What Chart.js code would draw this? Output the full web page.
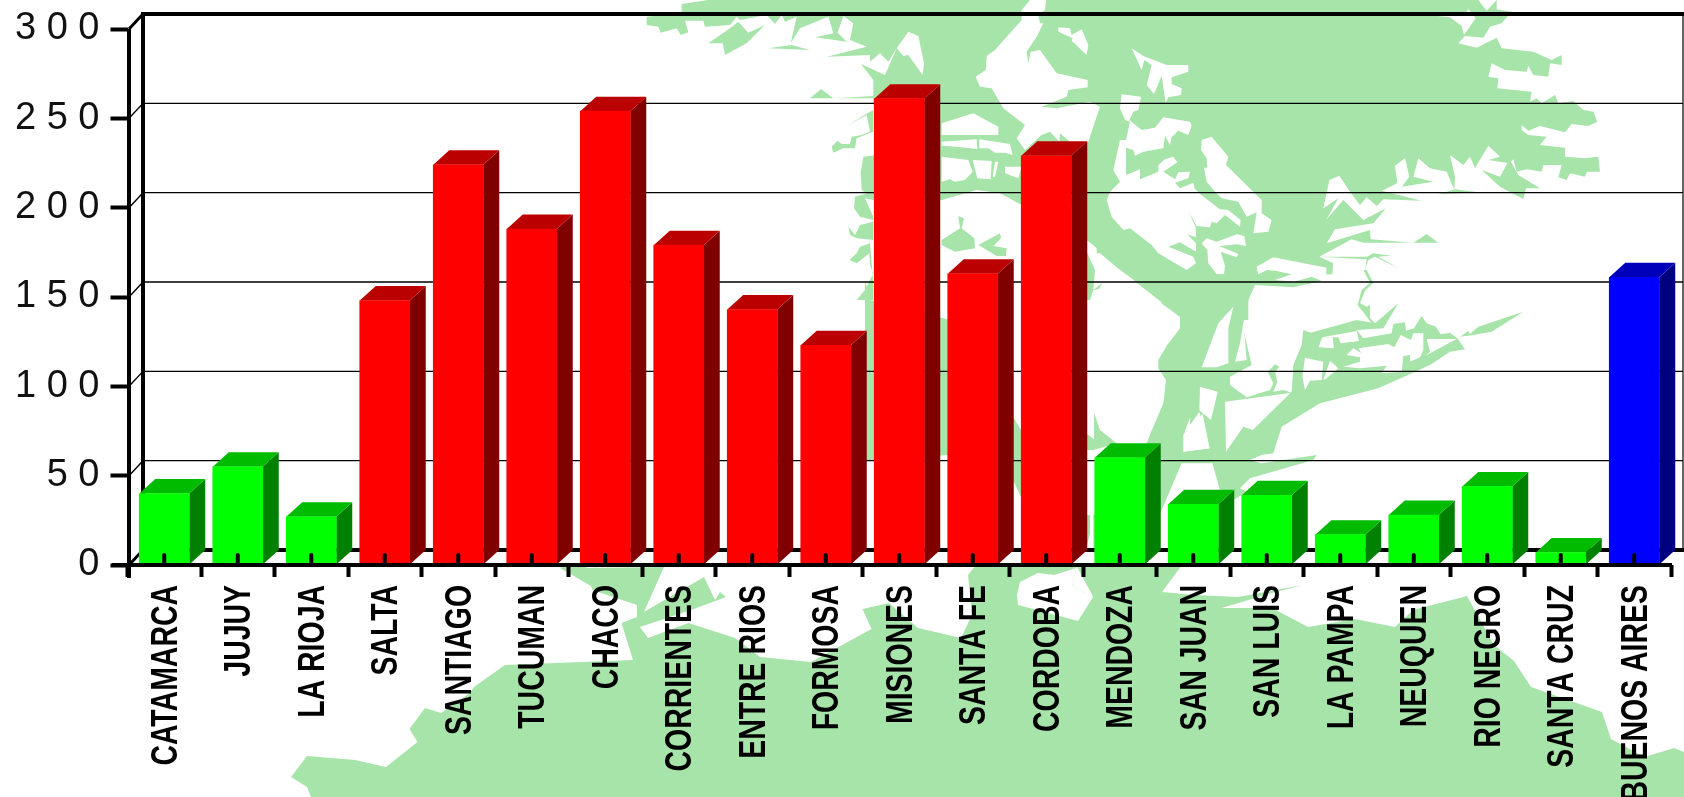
<!DOCTYPE html>
<html><head><meta charset="utf-8">
<style>html,body{margin:0;padding:0;background:#fff;overflow:hidden}canvas{display:block}</style>
<script src="https://cdn.jsdelivr.net/npm/chart.js@4/dist/chart.umd.min.js"></script>
</head><body><canvas id="c" width="1684" height="797"></canvas>
<script>
const provinces=["CATAMARCA","JUJUY","LA RIOJA","SALTA","SANTIAGO","TUCUMAN","CHACO","CORRIENTES","ENTRE RIOS","FORMOSA","MISIONES","SANTA FE","CORDOBA","MENDOZA","SAN JUAN","SAN LUIS","LA PAMPA","NEUQUEN","RIO NEGRO","SANTA CRUZ","BUENOS AIRES"];
const values=[40,55,27,148,224,188,254,179,143,123,261,163,229,60,34,39,17,28,44,7,161];
const regions=["g","g","g","r","r","r","r","r","r","r","r","r","r","g","g","g","g","g","g","g","b"];
const faceColors={r:"#ff0000",g:"#00ff00",b:"#0000ff"};
const topColors={r:"#bb0000",g:"#00bb00",b:"#0000bb"};
const sideColors={r:"#800000",g:"#008000",b:"#000080"};
const yTicks=[0,50,100,150,200,250,300];

// decorative background map: [originX, originY, divisor, fill, points]
const G="#a7e4a9",W="#ffffff";
const mapShapes=[
// main north body, west part
[640,0,3,G,[125,12,205,0,1500,0,1500,850,1340,720,1335,620,1145,615,1080,580,1010,570,905,600,860,600,700,600,665,570,662,520,670,470,710,465,700,300,700,240,663,192,735,225,770,145,745,185,720,160,690,185,690,165,560,170,680,140,630,120,640,70,610,48,593,98,620,125,525,112,580,100,565,50,480,85,452,130,470,50,435,65,425,45,405,72,380,45,300,60,290,50,270,75,195,80,190,62,135,62,145,97,122,105,110,85,62,98,55,80,20,75,20,50,125,40]],
[640,0,3,G,[205,130,270,85,295,65,325,98,375,75,320,130,255,165,248,130]],
[640,0,3,G,[385,145,455,135,510,150]],
[640,0,3,G,[510,295,543,267,580,295]],
[640,0,3,G,[585,295,700,288,700,295]],
[640,0,3,G,[575,440,580,458,610,445,645,445,650,415,700,395,700,330,682,340,620,378,680,345,690,395,665,405,635,410,630,432,605,432,592,422]],
[640,0,3,G,[645,590,700,575,700,600,675,595,700,650,700,660,660,650,642,625]],
[640,0,3,G,[625,680,645,705,660,675,700,665,700,720,650,715,630,705]],
[640,0,3,G,[628,780,650,760,660,740,690,730,700,850,700,900,650,900,675,870,700,820,690,795,688,760,650,790]],
[640,0,3,G,[905,720,960,685,955,648,972,655,965,685,1003,715,1005,745,945,755,905,735]],
[640,0,3,G,[1015,735,1080,700,1083,715,1060,738,1100,745,1098,768,1070,768]],
[640,0,3,G,[1340,755,1365,810,1360,870,1388,848,1375,870,1385,900,1340,900]],
// main north body, east lobe
[1100,0,3,G,[-10,0,1135,0,1160,32,1190,0,1190,28,1235,35,1205,70,1170,80,1150,113,1095,108,1075,130,1130,143,1190,113,1205,145,1300,155,1355,180,1385,165,1385,195,1350,190,1345,230,1300,225,1285,197,1280,215,1215,210,1175,190,1165,230,1195,235,1192,265,1295,275,1290,305,1310,295,1325,310,1365,285,1375,310,1420,303,1450,330,1480,335,1492,365,1465,378,1415,372,1395,397,1320,378,1285,392,1265,375,1265,390,1285,405,1340,410,1320,435,1395,443,1395,470,1455,475,1495,470,1500,515,1460,515,1455,530,1410,520,1400,540,1375,532,1385,495,1330,495,1325,515,1280,508,1250,515,1240,478,1228,490,1165,480,1200,470,1165,437,1125,505,1110,470,1090,495,1050,465,1065,530,1063,570,1040,515,990,505,955,475,940,530,1000,545,905,560,928,530,915,475,885,497,892,550,845,572,965,602,850,598,830,618,800,592,780,615,750,575,718,527,688,540,670,625,715,595,678,660,730,600,790,660,858,625,820,670,705,688,680,730,810,690,812,718,940,728,980,702,1015,728,790,728,755,718,658,770,700,790,697,823,678,823,680,803,520,772,470,800,475,822,500,810,527,812,575,823,525,840,583,845,635,830,665,843,580,862,465,855,445,900,445,960,185,960,185,900,60,810,0,760,-10,760]],
[1100,0,3,G,[1145,510,1200,530,1222,490,1230,480,1255,525,1320,565,1278,565,1270,597,1200,560]],
[1100,0,3,G,[1015,583,1135,577,1065,568]],
[1100,0,3,G,[658,770,800,770,820,760,873,767,835,770,900,807,825,770,805,780,790,822,795,810,800,778]],
// holes in the north body
[1100,0,3,W,[1005,47,1050,52,1085,78,1092,105,1127,55,1105,27,1098,40]],
[1100,0,3,W,[95,145,130,168,200,195,265,195,265,215,215,232,215,252,245,265,243,285,205,292,197,308,185,228,162,282,140,255,155,195,133,180,125,210]],
[1100,0,3,W,[65,283,123,290,115,330,100,335,88,360,125,390,165,383,190,352,270,365,275,378,265,405,235,392,215,412,210,435,195,407,190,445,130,455,105,467,100,450,78,443,60,420,78,420,90,365,75,360,60,325]],
[1100,0,3,W,[60,545,30,575,20,600,35,650,70,690,90,685,155,735,175,760,260,810,288,790,280,770,205,740,240,727,288,755,288,730,262,703,288,712,287,682,265,632,290,678,330,682,335,665,350,670,375,645,420,680,422,660,385,630,360,628,300,582,283,565,280,548,240,565,225,548,265,535,270,515,235,517,225,538,190,515,232,487,220,470,195,478,175,495,175,515,120,538,120,508,78,525,78,443,60,420,40,510]],
[1100,0,3,W,[320,715,350,725,410,703,433,708,438,738,412,733,358,738,415,762,410,772,362,755,375,797,372,822,350,822,325,790,322,750,305,730]],
[1100,0,3,W,[305,420,335,410,385,470,378,495,485,600,485,640,515,660,505,695,460,700,470,637,440,650,415,605,365,595,345,575,320,545,312,503,322,503,320,475,303,450]],
[1100,0,3,W,[470,800,498,787,500,810,475,822]],
[640,0,3,W,[1145,30,1170,0,1218,0,1215,30,1195,45,1200,70,1210,70,1190,110,1160,155,1165,190,1172,155,1200,150,1250,220,1343,240,1343,262,1285,270,1280,290,1205,320,1250,325,1350,305,1380,320,1345,425,1290,425,1260,400,1258,425,1230,395,1205,405,1155,450,1130,415,1155,375,1090,325,1055,265,1020,260,1007,230,1037,210,1040,168,1065,150,1145,60]],
[640,0,3,W,[1255,82,1290,85,1295,105,1325,88,1345,135,1340,165,1295,122,1298,115,1255,95]],
[640,0,3,W,[770,145,805,95,835,108,852,190,848,225,805,165,790,168]],
[640,0,3,W,[905,370,1000,340,1075,380,1075,405,980,405,905,405]],
[640,0,3,W,[905,425,1010,418,1012,447,950,440,905,437]],
[640,0,3,W,[1018,418,1110,432,1118,465,1095,458,1065,458,1045,445,1018,445]],
[640,0,3,W,[905,470,985,480,998,515,975,540,945,545,930,538,905,545]],
[640,0,3,W,[998,480,1055,483,1052,538,1012,535]],
[640,0,3,W,[1065,485,1075,485,1065,530,1058,530]],
[640,0,3,W,[1095,500,1145,500,1135,535,1095,520]],
// river running south behind the centre bars
[0,0,1,G,[865,280,870,300,950,320,1000,395,1021,430,1021,497,1013,480,960,450,948,455,873,460,865,460]],
// trunk of the south-east river
[800,280,3,W,[880,30,1000,10,1140,110,1140,145,1100,197,1040,175,960,120,950,90,940,120,870,60]],
[800,280,3,G,[1000,0,1175,0,1175,400,1150,465,1150,515,1040,490,1060,440,1090,370,1098,300,1075,265,1075,240,1100,197,1140,145,1140,110]],
[800,280,3,G,[858,460,882,478,882,398,900,450,950,490,880,510,860,510]],
[800,280,3,G,[860,705,870,705,870,760,860,800]],
[1080,430,3,G,[215,0,315,0,310,65,390,55,410,100,305,100,245,240,205,290,40,370,40,255,200,50]],
[1190,270,3,G,[0,40,185,50,165,130,158,170,185,285,120,320,120,345,170,382,240,360,250,340,233,305,255,283,268,290,255,305,262,335,250,365,280,360,305,368,105,395,108,545,130,590,180,570,215,580,380,555,370,570,180,625,150,655,170,665,130,690,90,660,70,590,38,432,0,465]],
[1190,270,3,G,[108,545,160,470,188,480,305,365,310,285,335,225,340,180,362,188,500,150,555,160,625,100,580,175,500,180,520,205,605,190,610,162,645,157,648,182,672,175,695,138,710,160,738,170,752,193,780,188,802,205,825,238,780,245,720,285,565,355,390,400,275,470,250,550,215,555,180,570,130,650]],
[1190,270,3,G,[520,0,530,0,550,38,525,62,510,100,530,110,540,105,540,145,555,160,545,160,503,105,515,60,540,38]],
[1190,270,3,G,[810,200,835,183,840,192,865,170,1000,125,905,185,850,195]],
[1190,270,3,W,[385,232,397,202,428,202,432,235]],
[1190,270,3,W,[397,202,500,183,507,213,452,220,445,202,428,202]],
[1190,270,3,W,[505,235,595,222,613,232,632,195,663,210,670,190,700,190,700,240,690,262,660,275,660,255,640,258,635,305,575,310,590,287,510,295,460,290,510,275,510,262,470,255,490,235,515,250]],
[1190,270,3,W,[710,207,800,207,705,258,720,245]],
[1190,270,3,W,[345,263,400,275,395,330,360,332,345,360,337,320]],
[1190,270,3,W,[420,272,445,295,410,325,400,330]],
[800,280,3,W,[1200,320,1253,335,1233,420,1208,400,1198,390]],
[800,280,3,W,[1198,395,1228,505,1150,515,1150,465]],
[800,280,3,W,[1300,80,1285,145,1285,250,1250,262,1205,262,1255,130]],
[800,280,3,W,[1330,130,1340,240,1305,245,1320,190]],
// southern land
[0,0,1,G,[291,777,307,756,355,760,386,767,417.5,742,409.5,729,425,708,441,713,470,693,474,687,505,665,633,660,621.5,623,637,617,637,605,592.5,590,583.5,568,664,567,644,612,704,577,715,600,720,592,726,597,691,610,640,627,648,638,688.5,623,735,638,760,657,811,662,871.5,629,862.5,609,889,603,918,628,961,638,972,615,968,575,976,565,1076.5,565,1076.5,568,1072,586,1093,597,1150.6,608,1168.6,603,1204.5,603,1225,608,1272,608,1308,627,1355,619,1395,627,1413,610,1467,596,1494,645,1514,661,1531,687,1602,712,1611,739,1644.6,757,1674,748,1684,752,1684,797,311,797,307,787]],
[0,0,1,G,[1076,565,1182,565,1162,592,1195.5,595,1238,597,1303,585,1272,593,1225,607,1160,610,1095,600]],
[0,0,1,W,[1038,573,1020,582,1017,595,1018,605,1078,621,1093,597,1072,586,1076.5,568,1054,575]],
[0,0,1,G,[566,565,585,565,598,590,560,568]]
];

const DEPTH_X=16, DEPTH_Y=14.5, WALL_X=14, WALL_Y=15, AXIS_OFFSET=1.5;
const LABEL_Y=585, LABEL_SQUEEZE=0.79;
const PLOT_TOP=29;

const background={id:"background",beforeDraw(chart){
  const c=chart.ctx;
  c.save();
  for(const [ox,oy,k,fill,p] of mapShapes){
    c.beginPath();
    for(let i=0;i<p.length;i+=2){const X=ox+p[i]/k,Y=oy+p[i+1]/k;i?c.lineTo(X,Y):c.moveTo(X,Y);}
    c.closePath();c.fillStyle=fill;c.fill();
  }
  c.restore();
},beforeDatasetsDraw(chart){
  const c=chart.ctx,{x,y}=chart.scales;
  c.save();
  const ax=x.left+AXIS_OFFSET, bx=ax+WALL_X, rx=chart.width-1;
  c.strokeStyle="#000";
  // gridlines on the back wall
  c.lineWidth=1.4;
  for(const v of yTicks){
    if(v===0||v===300)continue;
    const py=y.getPixelForValue(v);
    c.beginPath();c.moveTo(ax,py);c.lineTo(bx,py-WALL_Y);c.lineTo(rx,py-WALL_Y);c.stroke();
  }
  const top=y.getPixelForValue(300), base=y.getPixelForValue(0);
  c.lineWidth=1.2;c.beginPath();c.moveTo(rx,top-WALL_Y);c.lineTo(rx,base-WALL_Y);c.stroke();
  c.lineWidth=4;
  c.beginPath();c.moveTo(bx,base-WALL_Y);c.lineTo(bx,top-WALL_Y);c.lineTo(chart.width,top-WALL_Y);c.stroke();
  c.beginPath();c.moveTo(bx,base-WALL_Y);c.lineTo(chart.width,base-WALL_Y);c.stroke();
  c.lineWidth=3;
  c.beginPath();c.moveTo(ax,top);c.lineTo(bx,top-WALL_Y);c.moveTo(ax,base);c.lineTo(bx,base-WALL_Y);c.stroke();
  // side and top faces of the bars
  chart.getDatasetMeta(0).data.forEach((b,i)=>{
    const p=b.getProps(["x","y","base","width"],true),l=p.x-p.width/2,r=p.x+p.width/2,k=regions[i];
    c.fillStyle=sideColors[k];
    c.beginPath();c.moveTo(r,p.y);c.lineTo(r+DEPTH_X,p.y-DEPTH_Y);c.lineTo(r+DEPTH_X,p.base-DEPTH_Y);c.lineTo(r,p.base);c.closePath();c.fill();
    c.fillStyle=topColors[k];
    c.beginPath();c.moveTo(l,p.y);c.lineTo(l+DEPTH_X,p.y-DEPTH_Y);c.lineTo(r+DEPTH_X,p.y-DEPTH_Y);c.lineTo(r,p.y);c.closePath();c.fill();
  });
  c.restore();
},afterDatasetsDraw(chart){
  const c=chart.ctx,{x,y}=chart.scales,ax=x.left+AXIS_OFFSET;
  const top=y.getPixelForValue(300), base=y.getPixelForValue(0);
  c.save();c.strokeStyle="#000";c.lineWidth=4;
  c.beginPath();c.moveTo(ax,top);c.lineTo(ax,base+13);c.stroke();
  c.beginPath();c.moveTo(112,base);c.lineTo(x.right+1,base);c.stroke();
  c.lineCap="round";
  provinces.forEach((_,i)=>{const px=x.getPixelForValue(i);c.beginPath();c.moveTo(px,base);c.lineTo(px,base-10);c.stroke();});
  // category labels, rotated and condensed
  c.fillStyle="#000";c.font="bold 36px 'Liberation Sans',Arial,sans-serif";c.textAlign="right";c.textBaseline="middle";
  provinces.forEach((name,i)=>{
    c.save();c.translate(x.getPixelForValue(i),LABEL_Y);c.rotate(-Math.PI/2);c.scale(LABEL_SQUEEZE,1);
    c.fillText(name,0,2.5);c.restore();
  });
  c.restore();
}};

new Chart(document.getElementById("c"),{
  type:"bar",
  data:{labels:provinces,datasets:[{data:values,backgroundColor:regions.map(k=>faceColors[k]),barThickness:50,borderWidth:0}]},
  plugins:[background],
  options:{
    responsive:false,animation:false,
    layout:{autoPadding:false,padding:{top:PLOT_TOP,right:13,left:0,bottom:0}},
    plugins:{legend:{display:false},tooltip:{enabled:false}},
    scales:{
      x:{
        afterFit(s){s.height=232;},
        offset:true,
        border:{display:false},
        grid:{offset:true,drawOnChartArea:false,drawTicks:true,tickLength:12,tickWidth:4,tickColor:"#000"},
        ticks:{display:false,autoSkip:false}
      },
      y:{
        min:0,max:300,
        afterFit(s){s.width=127.5;s.paddingTop=0;s.paddingBottom=0;},
        afterUpdate(s){s._margins={left:0,right:0,top:0,bottom:0};},
        beforeDataLimits(s){s._margins={left:0,right:0,top:0,bottom:0};},
        afterBuildTicks(s){s.ticks=yTicks.map(v=>({value:v}));},
        border:{display:false},
        grid:{drawOnChartArea:false,drawTicks:true,tickLength:17,tickWidth:4,tickColor:"#000"},
        ticks:{padding:11,color:"#111",font:{family:"'Liberation Sans',Arial,sans-serif",size:38},callback:v=>String(v).split("").join(" ")}
      }
    }
  }
});
</script></body></html>
